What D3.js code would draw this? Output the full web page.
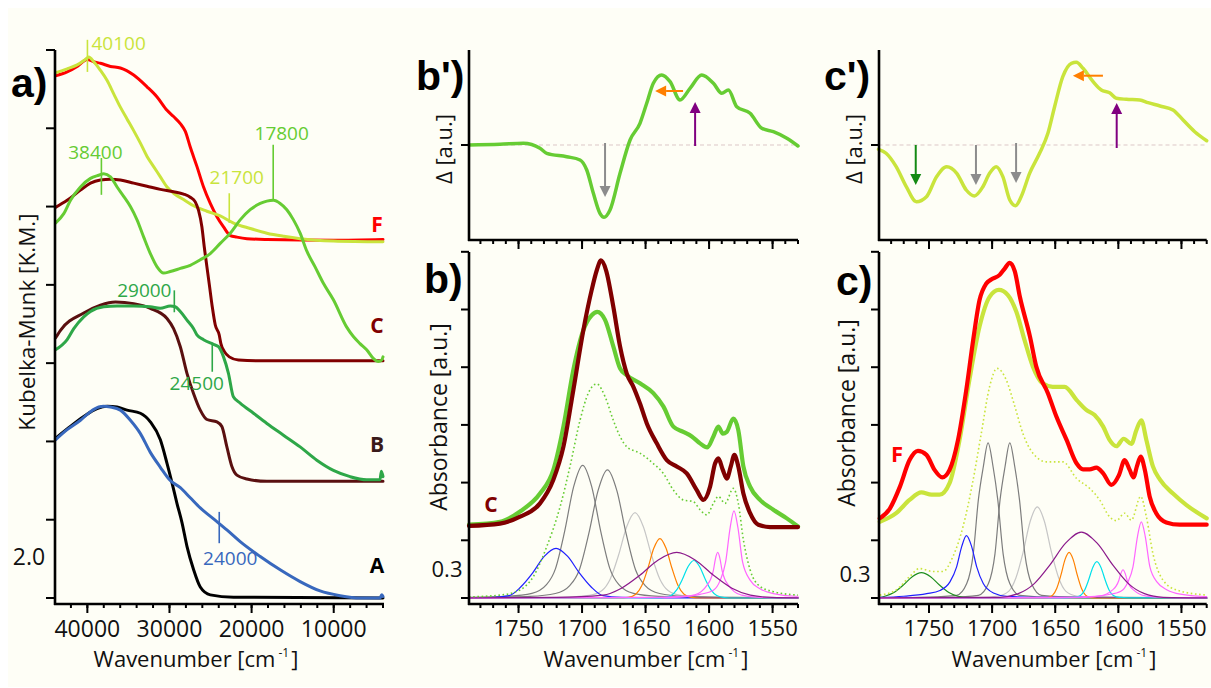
<!DOCTYPE html>
<html><head><meta charset="utf-8">
<script src="https://cdn.jsdelivr.net/npm/d3@7"></script>
<style>
html,body{margin:0;padding:0;background:#fff;}
svg{display:block;font-family:"Open Sans",sans-serif;}
</style></head><body>
<svg id="chart" width="1211" height="688"></svg>
<script>
// ---------------- DATA ----------------
// Panel a) : Kubelka-Munk spectra, x = wavenumber [cm-1], y = K.M. (offset units)
const aTickLabels = [40000, 30000, 20000, 10000];
const aSampleF = [[43880,6.67],[42460,6.72],[41240,6.79],[40020,6.88],[39220,6.85],[38410,6.83],[37190,6.79],[35980,6.77],[34360,6.68],[32740,6.53],[31510,6.40],[30300,6.23],[29500,6.15],[28680,6.06],[28070,5.96],[27470,5.76],[26650,5.51],[25850,5.25],[25030,5.04],[24220,4.87],[23420,4.74],[22600,4.63],[21790,4.61],[20570,4.59],[18140,4.58],[10000,4.57],[4000,4.58]];
const aSampleFp = [[43880,6.71],[42460,6.76],[41240,6.81],[40230,6.88],[39830,6.91],[39220,6.85],[38410,6.74],[37590,6.61],[36790,6.44],[35980,6.27],[35170,6.12],[34360,5.97],[33540,5.81],[32730,5.64],[31930,5.51],[31110,5.38],[30300,5.25],[29500,5.17],[28280,5.09],[27060,5.01],[25450,4.94],[23820,4.88],[22200,4.79],[20170,4.72],[18140,4.66],[16080,4.62],[14090,4.59],[10040,4.56],[4000,4.55]];
const aSampleC = [[43880,4.99],[42460,5.08],[40840,5.21],[39620,5.30],[38410,5.34],[37190,5.35],[35980,5.34],[34360,5.30],[32740,5.26],[31110,5.22],[29500,5.19],[28280,5.16],[27470,5.12],[26860,5.06],[26460,4.95],[26050,4.74],[25770,4.49],[25440,4.23],[25120,3.98],[24790,3.72],[24430,3.49],[23940,3.36],[23740,3.25],[23330,3.15],[22720,3.08],[21600,3.04],[18140,3.03],[4000,3.03]];
const aSampleCp = [[43880,4.79],[42870,4.91],[42050,5.08],[40840,5.25],[39620,5.36],[38610,5.40],[38000,5.42],[37190,5.38],[36380,5.25],[35580,5.13],[34760,5.00],[33950,4.83],[33140,4.61],[32330,4.40],[31510,4.23],[30710,4.15],[29900,4.17],[28680,4.21],[27470,4.25],[26250,4.32],[25030,4.40],[23820,4.53],[22600,4.66],[21390,4.83],[20170,4.96],[18950,5.04],[18140,5.07],[17330,5.08],[16520,5.04],[15710,4.96],[14900,4.83],[14090,4.66],[13270,4.43],[12270,4.23],[11260,4.02],[10040,3.81],[8420,3.46],[7610,3.34],[6800,3.25],[5990,3.17],[5180,3.06],[4570,3.02],[4160,3.04],[4000,3.08]];
const aSampleB = [[43880,3.32],[43270,3.42],[40440,3.64],[38410,3.74],[36580,3.78],[34360,3.76],[32330,3.70],[30300,3.57],[29500,3.44],[28680,3.21],[27870,2.87],[27060,2.61],[26250,2.40],[25440,2.28],[24220,2.25],[23620,2.19],[23010,1.93],[22400,1.68],[21790,1.57],[20570,1.52],[18140,1.49],[4000,1.49]];
const aSampleBp = [[43880,3.17],[42460,3.30],[41650,3.44],[40440,3.59],[39620,3.66],[38000,3.72],[36380,3.73],[34360,3.73],[32330,3.72],[31110,3.70],[29900,3.73],[29290,3.72],[28680,3.66],[27870,3.55],[27060,3.44],[26660,3.36],[25850,3.30],[24640,3.24],[24030,3.21],[23420,3.08],[22820,2.87],[22220,2.57],[21390,2.49],[19770,2.36],[18140,2.23],[16120,2.08],[14090,1.93],[12060,1.76],[10040,1.63],[8010,1.55],[5990,1.51],[4370,1.51],[4200,1.62],[4000,1.55]];
const aSampleA = [[43880,2.04],[42460,2.16],[40440,2.32],[38820,2.42],[37600,2.45],[36380,2.44],[35170,2.40],[33540,2.36],[32330,2.25],[31110,2.02],[30300,1.72],[29690,1.47],[29090,1.21],[28470,0.96],[27870,0.66],[27060,0.36],[26250,0.14],[25030,0.04],[22200,0.01],[4000,0.0]];
const aSampleAp = [[43880,2.02],[42460,2.15],[40840,2.27],[39620,2.38],[38610,2.44],[38000,2.45],[37190,2.44],[35980,2.40],[34760,2.27],[33540,2.10],[32330,1.86],[31110,1.67],[29900,1.50],[28680,1.41],[27470,1.28],[26250,1.15],[24630,1.01],[23010,0.87],[21390,0.72],[18950,0.53],[16520,0.36],[14090,0.21],[11660,0.09],[9230,0.03],[6800,0.0],[4370,0.0],[4160,0.04],[4000,0.02]];
// band-position markers in panel a
const aMarkLabels = ["40100","38400","17800","21700","29000","24500","24000"];
const aMarkX      = [39990, 38290, 17370, 22720, 29410, 24790, 23940];
const aMarkTop    = [7.13, 5.62, 5.79, 5.17, 3.93, 3.26, 1.10];
const aMarkBottom = [6.72, 5.15, 5.08, 4.79, 3.65, 2.89, 0.70];
const aSampleNames = ["F","C","B","A"];
const aSampleNameY = [4.77, 3.48, 1.96, 0.42];

// Panel b') and c') : difference spectra (a.u.)
const bpDelta = [[1789,0],[1764.6,0.07],[1746.2,0.17],[1733.1,-0.33],[1727.8,-0.83],[1712.1,-1.17],[1701.6,-1.5],[1696.3,-2.5],[1691.1,-4.83],[1685.9,-6.83],[1682.7,-7.23],[1678,-6.5],[1670.1,-2.83],[1662.2,0.5],[1654.4,2.17],[1649.1,4.17],[1643.9,6.17],[1637.3,7.0],[1630.7,6.33],[1622.9,4.5],[1615,5.67],[1605.8,7.0],[1596.6,6.17],[1590,5.17],[1584.8,5.5],[1578.2,3.83],[1567.7,3.17],[1558.5,1.67],[1549.4,1.33],[1538.8,0.67],[1530,-0.1]];
const cpDelta = [[1790,-0.43],[1784,-0.83],[1776,-2.17],[1768,-4.17],[1760,-5.67],[1752,-5.17],[1744,-3.17],[1736,-2.17],[1728,-2.83],[1720.5,-4.5],[1714,-5.1],[1707.3,-4.17],[1702,-2.83],[1696.7,-2.17],[1691.5,-3.17],[1686,-5.5],[1681.4,-6.07],[1677,-5.17],[1670.3,-2.83],[1662.4,-0.83],[1655.8,1.17],[1650.5,3.83],[1644,6.83],[1637.2,8.17],[1633.3,8.27],[1628,7.67],[1620,6.33],[1613.5,5.5],[1606.9,5.23],[1601.6,4.67],[1593.6,4.57],[1583,4.5],[1576.5,4.23],[1567,3.9],[1556.7,3.5],[1548.7,2.5],[1539.5,1.33],[1530,0.43]];
// arrows: [x0, y0, x1(tip), y1(tip)]
const bpArrows = [[1681.9,0.2,1681.9,-5.2],[1620.5,5.4,1642.5,5.4],[1611,-0.1,1611,4.3]];
const bpArrowColors = ["#8c8c8c","#ff7f00","#800080"];
const cpArrows = [[1760.5,0,1760.5,-4.0],[1712.8,0,1712.8,-4.0],[1681,0.2,1681,-3.8],[1612.2,6.93,1636,6.93],[1601.3,-0.3,1601.3,4.2]];
const cpArrowColors = ["#138a13","#8c8c8c","#8c8c8c","#ff7f00","#800080"];

// Panel b) : absorbance
const irTickLabels = [1750, 1700, 1650, 1600, 1550];
const bSampleC = [[1789,1.25],[1764.6,1.29],[1748.8,1.41],[1733.1,1.64],[1722.6,2.05],[1714.7,2.62],[1706.9,3.6],[1699,4.64],[1692.4,5.34],[1688.4,5.68],[1685.1,5.85],[1681.1,5.68],[1675.4,5.05],[1670.1,4.36],[1664.8,3.89],[1659.6,3.66],[1654.4,3.37],[1649.1,3.03],[1641.2,2.68],[1633.3,2.39],[1625.5,2.28],[1617.6,2.16],[1609.7,1.87],[1604.5,1.70],[1599.2,1.93],[1595.3,2.33],[1592.7,2.42],[1589.2,2.22],[1586.1,2.07],[1582.9,2.28],[1580.1,2.48],[1577,2.28],[1573,1.81],[1567.7,1.47],[1561.2,1.27],[1552,1.23],[1530,1.23]];
const bSampleCp = [[1789,1.27],[1764.6,1.32],[1748.8,1.50],[1733.1,1.81],[1722.6,2.22],[1714.7,2.97],[1706.9,3.95],[1699,4.64],[1692.4,4.90],[1688,4.96],[1681.9,4.82],[1675.4,4.36],[1670.1,3.98],[1664.8,3.86],[1654.4,3.72],[1643.9,3.55],[1636,3.32],[1628.1,2.97],[1620.3,2.88],[1613.6,2.80],[1607.1,2.68],[1601.4,2.61],[1596.6,2.80],[1592.7,2.97],[1589.2,2.85],[1586.1,2.88],[1580.9,3.11],[1577,2.91],[1573,2.28],[1567.7,1.93],[1559.9,1.70],[1549.4,1.53],[1538.8,1.38],[1530,1.24]];
const bFitSum = [[1789,0.02],[1764.6,0.05],[1748.8,0.14],[1738.4,0.37],[1727.8,0.89],[1717.3,1.58],[1709.5,2.28],[1701.6,3.08],[1695.1,3.55],[1688.4,3.71],[1681.9,3.49],[1675.4,3.08],[1670.1,2.80],[1664.8,2.62],[1654.4,2.51],[1643.9,2.33],[1636,2.16],[1628.1,1.87],[1620.3,1.70],[1612.4,1.67],[1607.1,1.53],[1601.8,1.44],[1596.6,1.64],[1592.7,1.76],[1587.4,1.64],[1580.9,1.90],[1577,1.64],[1573,1.01],[1567.7,0.49],[1559.9,0.20],[1549.4,0.11],[1530,0.05]];
const bBandLightGray = [[1789,0.002],[1738.3,0.006],[1712.3,0.015],[1694.3,0.045],[1684.3,0.13],[1677.8,0.33],[1671.3,0.74],[1664.8,1.24],[1658.3,1.48],[1651.8,1.24],[1645.3,0.74],[1638.8,0.33],[1632.3,0.13],[1622.3,0.045],[1604.3,0.015],[1578.3,0.006],[1530,0.002]];
const bBandGray1 = [[1789,0.01],[1759.5,0.028],[1739.5,0.08],[1728,0.23],[1720.9,0.51],[1713.75,1.15],[1706.6,1.93],[1699.5,2.30],[1692.4,1.93],[1685.25,1.15],[1678.1,0.51],[1671,0.23],[1659.5,0.08],[1639.5,0.028],[1609.5,0.012],[1530,0.003]];
const bBandGray2 = [[1789,0.006],[1771,0.011],[1741,0.027],[1721,0.078],[1709.5,0.22],[1702.1,0.49],[1694.75,1.11],[1687.4,1.86],[1680,2.22],[1672.6,1.86],[1665.25,1.11],[1657.9,0.49],[1650.5,0.22],[1639,0.078],[1619,0.027],[1589,0.011],[1530,0.004]];
const bBandBlue = [[1789,0.003],[1772,0.008],[1757.5,0.04],[1748.3,0.19],[1739,0.43],[1729.8,0.72],[1720.5,0.86],[1711.3,0.72],[1702,0.43],[1692.8,0.19],[1683.5,0.04],[1668.5,0.01],[1640,0.002],[1530,0]];
const bBandOrange = [[1789,0],[1670.7,0],[1663.7,0.01],[1657.7,0.064],[1652.95,0.215],[1648.2,0.515],[1643.45,0.865],[1638.7,1.03],[1633.95,0.865],[1629.2,0.515],[1624.45,0.215],[1619.7,0.064],[1613.7,0.01],[1606.7,0],[1530,0]];
const bBandCyan = [[1789,0],[1640,0],[1636,0.006],[1630,0.042],[1625.5,0.14],[1621,0.325],[1616.5,0.546],[1612,0.65],[1607.5,0.546],[1603,0.325],[1598.5,0.14],[1594,0.042],[1588,0.006],[1584,0],[1530,0]];
const bBandPinkSmall = [[1789,0],[1643.2,0.004],[1623.2,0.015],[1612.2,0.05],[1606.2,0.11],[1601.7,0.22],[1598.7,0.33],[1596.6,0.48],[1595,0.68],[1593.2,0.79],[1591.4,0.68],[1589.8,0.48],[1587.7,0.33],[1584.7,0.22],[1580.2,0.11],[1574.2,0.05],[1563.2,0.015],[1543.2,0.004],[1530,0.002]];
const bBandPinkBig = [[1789,0.003],[1650,0.012],[1620.3,0.03],[1607.1,0.064],[1596.6,0.134],[1591.2,0.31],[1587,0.62],[1583.4,1.22],[1580.4,1.51],[1577.3,1.22],[1573.6,0.62],[1567.7,0.31],[1559.9,0.16],[1549.4,0.075],[1531,0.03],[1530,0.03]];
const bBandPurple = [[1789,0.002],[1720,0.01],[1683.5,0.05],[1669,0.17],[1654.5,0.395],[1640,0.66],[1625.5,0.79],[1611,0.66],[1596.5,0.395],[1582,0.17],[1567.5,0.05],[1550.5,0.01],[1530,0.003]];

// Panel c) : absorbance
const cSampleF = [[1789,1.38],[1781,1.55],[1773,1.93],[1765.4,2.39],[1758.8,2.55],[1752,2.48],[1745.6,2.22],[1739.5,2.09],[1733.7,2.22],[1727,2.74],[1720.5,3.60],[1715,4.47],[1710,5.16],[1704.6,5.45],[1700.7,5.52],[1694,5.60],[1690,5.71],[1686,5.81],[1682,5.66],[1678,5.22],[1670,4.53],[1665,4.01],[1655.8,3.55],[1649,3.14],[1641,2.74],[1633,2.33],[1628,2.23],[1622.7,2.23],[1617.4,2.26],[1612,2.16],[1605.5,1.96],[1599.5,2.13],[1595,2.39],[1591,2.22],[1588,2.09],[1585.3,2.28],[1582.3,2.45],[1579,2.22],[1575.2,1.76],[1570,1.47],[1562,1.31],[1551.4,1.27],[1530,1.27]];
const cSampleFp = [[1789,1.32],[1776,1.47],[1765.4,1.70],[1756,1.83],[1748,1.79],[1741.6,1.79],[1733.7,1.99],[1725.8,2.74],[1718,3.78],[1710,4.70],[1702,5.22],[1694.6,5.34],[1687.5,5.25],[1680.8,4.96],[1674.3,4.47],[1667.7,4.01],[1660,3.72],[1652,3.66],[1642.5,3.66],[1633,3.43],[1625.4,3.26],[1618.8,3.17],[1612,2.97],[1607,2.74],[1601.6,2.63],[1595.8,2.76],[1589.7,2.67],[1585.7,2.91],[1581.8,3.08],[1577.8,2.74],[1572.6,2.28],[1567,2.05],[1556.7,1.81],[1546,1.61],[1530,1.38]];
const cFitSum = [[1789,0.05],[1776,0.14],[1765.4,0.37],[1757.5,0.51],[1747,0.46],[1739,0.46],[1731,0.72],[1723,1.24],[1715,2.05],[1708.6,2.85],[1702,3.66],[1696,3.98],[1688.8,3.78],[1682,3.32],[1675.6,2.85],[1667.7,2.51],[1657,2.36],[1644,2.36],[1633,2.07],[1622.7,1.90],[1614.8,1.70],[1607,1.41],[1601.6,1.34],[1595,1.47],[1589.7,1.35],[1582.3,1.76],[1577.8,1.41],[1572.6,0.77],[1564.6,0.31],[1554,0.14],[1530,0.05]];
const cBandGreen = [[1790,0.004],[1785,0.03],[1777.75,0.095],[1770.5,0.22],[1763.25,0.37],[1756,0.44],[1748.75,0.37],[1741.5,0.22],[1734.25,0.095],[1727,0.03],[1718,0.005],[1700,0],[1530,0]];
const cBandBlue = [[1790,0.01],[1770,0.03],[1751.8,0.075],[1741.3,0.13],[1733.4,0.28],[1728.1,0.54],[1724.1,0.89],[1720.3,1.08],[1716.2,0.89],[1712.2,0.54],[1707,0.25],[1699,0.087],[1688.4,0.03],[1660,0.01],[1530,0.002]];
const cBandGray1 = [[1790,0.003],[1750,0.015],[1728.1,0.046],[1720.1,0.25],[1714.9,0.77],[1710.9,1.70],[1707,2.27],[1703.2,2.69],[1699.2,2.27],[1695.5,1.70],[1691.3,0.77],[1686,0.25],[1678,0.046],[1650,0.012],[1530,0.002]];
const cBandGray2 = [[1790,0.002],[1733,0.012],[1710.9,0.046],[1702.9,0.25],[1697.7,0.77],[1693.7,1.70],[1689.8,2.27],[1686,2.69],[1682,2.27],[1678.3,1.70],[1674.1,0.77],[1668.8,0.25],[1660.8,0.046],[1633,0.015],[1530,0.003]];
const cBandLightGray = [[1790,0],[1709.2,0.01],[1695.2,0.035],[1686.7,0.12],[1681.1,0.35],[1675.45,0.79],[1669.8,1.33],[1664.2,1.58],[1658.6,1.33],[1652.95,0.79],[1647.3,0.35],[1641.7,0.12],[1633.2,0.035],[1619.2,0.01],[1530,0]];
const cBandOrange = [[1790,0],[1661,0],[1656,0.008],[1652,0.05],[1648.75,0.17],[1645.5,0.395],[1642.25,0.665],[1639,0.79],[1635.75,0.665],[1632.5,0.395],[1629.25,0.17],[1626,0.05],[1622,0.008],[1617,0],[1530,0]];
const cBandCyan = [[1790,0],[1642,0.002],[1635,0.01],[1630,0.045],[1626.75,0.135],[1623.5,0.315],[1620.25,0.53],[1617,0.63],[1613.75,0.53],[1610.5,0.315],[1607.25,0.135],[1604,0.045],[1599,0.01],[1592,0.002],[1530,0]];
const cBandPinkSmall = [[1790,0],[1646.3,0.0025],[1626.3,0.009],[1615.3,0.031],[1609.3,0.069],[1604.8,0.137],[1601.8,0.205],[1599.7,0.30],[1598.1,0.42],[1596.3,0.49],[1594.5,0.42],[1592.9,0.30],[1590.8,0.205],[1587.8,0.137],[1583.3,0.069],[1577.3,0.031],[1566.3,0.009],[1546.3,0.0025],[1530,0.001]];
const cBandPinkBig = [[1790,0.003],[1651.4,0.010],[1621.7,0.026],[1608.5,0.056],[1598,0.117],[1592.6,0.27],[1588.4,0.54],[1584.8,1.07],[1581.8,1.32],[1578.7,1.07],[1575,0.54],[1569.1,0.27],[1561.3,0.14],[1550.8,0.066],[1532.4,0.026],[1530,0.025]];
const cBandPurple = [[1790,0.003],[1694.3,0.012],[1679.3,0.075],[1666.8,0.245],[1654.3,0.57],[1641.8,0.95],[1629.3,1.14],[1616.8,0.95],[1604.3,0.57],[1591.8,0.245],[1579.3,0.075],[1564.3,0.012],[1530,0.002]];

// ---------------- STYLE / LAYOUT ----------------
const BG = "#fefef6";
const C_RED = "#ff0000", C_YG = "#c9e43c", C_LG = "#66cc33", C_DR = "#800000",
      C_BR = "#5a1010", C_MG = "#2ea748", C_BLUE = "#3868bd", C_BLK = "#000000";
const bandColors = {lightgray:"#c6c6c6", gray:"#7d7d7d", blue:"#1f1fff", orange:"#ff8000",
  cyan:"#00e0ea", pink:"#ff66ff", purple:"#8b1a8b", green:"#1f8f1f"};

const svg = d3.select("#chart");
svg.append("rect").attr("width",1211).attr("height",688).attr("fill","#ffffff");
svg.append("rect").attr("x",8).attr("y",8).attr("width",1203).attr("height",679).attr("fill",BG);

function path(g, data, xs, ys, color, width, dash) {
  const line = d3.line().x(d => xs(d[0])).y(d => ys(d[1])).curve(d3.curveMonotoneX);
  const p = g.append("path").attr("d", line(data)).attr("fill","none")
    .attr("stroke", color).attr("stroke-width", width)
    .attr("stroke-linejoin","round").attr("stroke-linecap","round");
  if (dash) p.attr("stroke-dasharray", dash).attr("stroke-linecap","butt");
  return p;
}
function vline(g,x,y0,y1,w){ g.append("line").attr("x1",x).attr("x2",x).attr("y1",y0).attr("y2",y1).attr("stroke","#000").attr("stroke-width",w); }
function hline(g,y,x0,x1,w){ g.append("line").attr("x1",x0).attr("x2",x1).attr("y1",y).attr("y2",y).attr("stroke","#000").attr("stroke-width",w); }
function yTicks(g, x, ys, vals, len) { vals.forEach(v => hline(g, ys(v), x-len, x, 2)); }
function xTicks(g, y, xs, vals, len) { vals.forEach(v => vline(g, xs(v), y, y+len, 2)); }
function arrow(g, x0, y0, x1, y1, color) {
  const dx = x1-x0, dy = y1-y0, L = Math.hypot(dx,dy), ux = dx/L, uy = dy/L;
  const hl = 11, hw = 5.5;
  const bx = x1-ux*hl, by = y1-uy*hl;
  g.append("line").attr("x1",x0).attr("y1",y0).attr("x2",bx).attr("y2",by)
    .attr("stroke",color).attr("stroke-width",2);
  g.append("path").attr("d",`M${x1},${y1}L${bx-uy*hw},${by+ux*hw}L${bx+uy*hw},${by-ux*hw}Z`).attr("fill",color);
}
function xTitle(g, cx, y) {
  const t = g.append("text").attr("x",cx).attr("y",y).attr("text-anchor","middle")
    .attr("font-size",22).attr("fill","#111");
  t.append("tspan").text("Wavenumber [cm");
  t.append("tspan").attr("font-size",12).attr("dy",-10).attr("dx",3).text("-1");
  t.append("tspan").attr("dy",10).attr("dx",2).text("]");
}
function yTitle(g, x, cy, txt, size) {
  g.append("text").attr("transform",`translate(${x},${cy}) rotate(-90)`)
    .attr("text-anchor","middle").attr("font-size",size).attr("fill","#111").text(txt);
}
function panelLabel(g, x, y, txt) {
  g.append("text").attr("x",x).attr("y",y).attr("font-family","'Liberation Sans',Arial,sans-serif")
    .attr("font-weight","bold").attr("font-size",41).attr("fill","#000").text(txt);
}

// ---------------- PANEL a ----------------
const ga = svg.append("g");
const xA = d3.scaleLinear().domain([44000,4000]).range([54.5,383]);
const yA = d3.scaleLinear().domain([0,7]).range([598,50]);
const aAxisY = 604;
path(ga, aSampleF, xA, yA, C_RED, 3);
path(ga, aSampleFp, xA, yA, C_YG, 3);
path(ga, aSampleC, xA, yA, C_DR, 3);
path(ga, aSampleCp, xA, yA, C_LG, 3);
path(ga, aSampleB, xA, yA, C_BR, 3);
path(ga, aSampleBp, xA, yA, C_MG, 3);
path(ga, aSampleA, xA, yA, C_BLK, 3);
path(ga, aSampleAp, xA, yA, C_BLUE, 3);
vline(ga, 55, 50, aAxisY+1, 2.6);
hline(ga, aAxisY, 54, 384, 2.6);
yTicks(ga, 55, yA, d3.range(0,8), 9);
xTicks(ga, aAxisY, xA, d3.range(42000,3999,-2000), 4);
xTicks(ga, aAxisY, xA, aTickLabels, 9);
aTickLabels.forEach(v => ga.append("text").attr("x",xA(v)).attr("y",637).attr("text-anchor","middle")
  .attr("font-size",23).attr("fill","#111").text(v));
ga.append("text").attr("x",29).attr("y",565).attr("text-anchor","middle").attr("font-size",23).attr("fill","#111").text("2.0");
xTitle(ga, 196, 667);
yTitle(ga, 35, 322, "Kubelka-Munk [K.M.]", 22.5);
panelLabel(ga, 11, 97, "a)");
// markers
const markColors = [C_YG, C_LG, C_LG, C_YG, C_MG, C_MG, C_BLUE];
const markLayout = [ // [anchor, dx, dy, relative to top(0)/bottom(1)]
  ["start", 4, 3, 0], ["middle", -6, -6, 0], ["middle", 8.5, -12, 0], ["middle", 7.5, -16, 0],
  ["middle", -30, 0, 0], ["middle", -15.5, 11, 1], ["middle", 11, 15, 1]];
aMarkLabels.forEach((lab, i) => {
  const x = xA(aMarkX[i]), yt = yA(aMarkTop[i]), yb = yA(aMarkBottom[i]);
  ga.append("line").attr("x1",x).attr("x2",x).attr("y1",yt).attr("y2",yb)
    .attr("stroke",markColors[i]).attr("stroke-width",1.6);
  const L = markLayout[i], ref = L[3] ? yb : yt;
  ga.append("text").attr("x",x+L[1]).attr("y",ref+L[2]+7).attr("text-anchor",L[0])
    .attr("font-size",19).attr("fill",markColors[i]).text(lab);
});
const nameColors = [C_RED, C_DR, "#3a1a1a", C_BLK];
aSampleNames.forEach((n,i) => ga.append("text").attr("x",377).attr("y",yA(aSampleNameY[i])+7.5)
  .attr("text-anchor","middle").attr("font-weight","bold").attr("font-size",21).attr("fill",nameColors[i]).text(n));

// ---------------- PANELS b' / b ----------------
function deltaPanel(g, xs, x0, data, color, arrows, arrowColors) {
  const ys = d3.scaleLinear().domain([-9.5,9.5]).range([240,50]);
  g.append("line").attr("x1",xs.range()[0]).attr("x2",xs.range()[1]).attr("y1",ys(0)).attr("y2",ys(0))
    .attr("stroke","#dcc7c7").attr("stroke-width",1).attr("stroke-dasharray","4,3");
  path(g, data, xs, ys, color, 3.5);
  arrows.forEach((a,i) => arrow(g, xs(a[0]), ys(a[1]), xs(a[2]), ys(a[3]), arrowColors[i]));
  vline(g, x0, 50, 241, 2.6);
  hline(g, 240, x0-1, xs.range()[1], 2.6);
  yTicks(g, x0, ys, [0], 8);
  xTicks(g, 240, xs, d3.range(1780,1529,-10), 4);
  xTicks(g, 240, xs, irTickLabels, 9);
}
function absPanel(g, xs, x0, ys, bands, fitSum, sumColor, thick, thickColors) {
  bands.forEach(b => path(g, b[0], xs, ys, b[1], 1.2));
  path(g, fitSum, xs, ys, sumColor, 1.6, "1.6,2.6");
  thick.forEach((t,i) => path(g, t, xs, ys, thickColors[i], 4.2));
  vline(g, x0, 252, 605, 2.6);
  hline(g, 604, x0-1, xs.range()[1], 2.6);
  yTicks(g, x0, ys, d3.range(0,7), 8);
  xTicks(g, 604, xs, d3.range(1780,1529,-10), 4);
  xTicks(g, 604, xs, irTickLabels, 9);
  irTickLabels.forEach(v => g.append("text").attr("x",xs(v)).attr("y",636).attr("text-anchor","middle")
    .attr("font-size",22).attr("fill","#111").text(v));
}

const gb = svg.append("g");
const xB = d3.scaleLinear().domain([1789,1530]).range([469,798]);
const yB = d3.scaleLinear().domain([0,6]).range([598,251.8]);
deltaPanel(gb, xB, 469, bpDelta, C_LG, bpArrows, bpArrowColors);
absPanel(gb, xB, 469, yB, [
  [bBandLightGray, bandColors.lightgray],[bBandGray1, bandColors.gray],[bBandGray2, bandColors.gray],
  [bBandBlue, bandColors.blue],[bBandOrange, bandColors.orange],[bBandCyan, bandColors.cyan],
  [bBandPinkSmall, bandColors.pink],[bBandPinkBig, bandColors.pink],[bBandPurple, bandColors.purple]],
  bFitSum, C_LG, [bSampleCp, bSampleC], [C_LG, C_DR]);
yTitle(gb, 452, 149, "Δ [a.u.]", 22);
yTitle(gb, 447, 417, "Absorbance [a.u.]", 23);
gb.append("text").attr("x",447).attr("y",577).attr("text-anchor","middle").attr("font-size",22).attr("fill","#111").text("0.3");
gb.append("text").attr("x",491).attr("y",512).attr("text-anchor","middle").attr("font-weight","bold")
  .attr("font-size",21).attr("fill",C_DR).text("C");
xTitle(gb, 646, 667);
panelLabel(gb, 416, 90, "b')");
panelLabel(gb, 424, 293, "b)");

// ---------------- PANELS c' / c ----------------
const gc = svg.append("g");
const xC = d3.scaleLinear().domain([1790,1530]).range([878.5,1206.7]);
deltaPanel(gc, xC, 879, cpDelta, C_YG, cpArrows, cpArrowColors);
absPanel(gc, xC, 879, yB, [
  [cBandLightGray, bandColors.lightgray],[cBandGray1, bandColors.gray],[cBandGray2, bandColors.gray],
  [cBandGreen, bandColors.green],[cBandBlue, bandColors.blue],[cBandOrange, bandColors.orange],[cBandCyan, bandColors.cyan],
  [cBandPinkSmall, bandColors.pink],[cBandPinkBig, bandColors.pink],[cBandPurple, bandColors.purple]],
  cFitSum, C_YG, [cSampleFp, cSampleF], [C_YG, C_RED]);
yTitle(gc, 862, 149, "Δ [a.u.]", 22);
yTitle(gc, 855, 413, "Absorbance [a.u.]", 23);
gc.append("text").attr("x",855).attr("y",582).attr("text-anchor","middle").attr("font-size",22).attr("fill","#111").text("0.3");
gc.append("text").attr("x",897).attr("y",462).attr("text-anchor","middle").attr("font-weight","bold")
  .attr("font-size",22).attr("fill",C_RED).text("F");
xTitle(gc, 1054, 667);
panelLabel(gc, 824, 90, "c')");
panelLabel(gc, 836, 295, "c)");
</script>
</body></html>
